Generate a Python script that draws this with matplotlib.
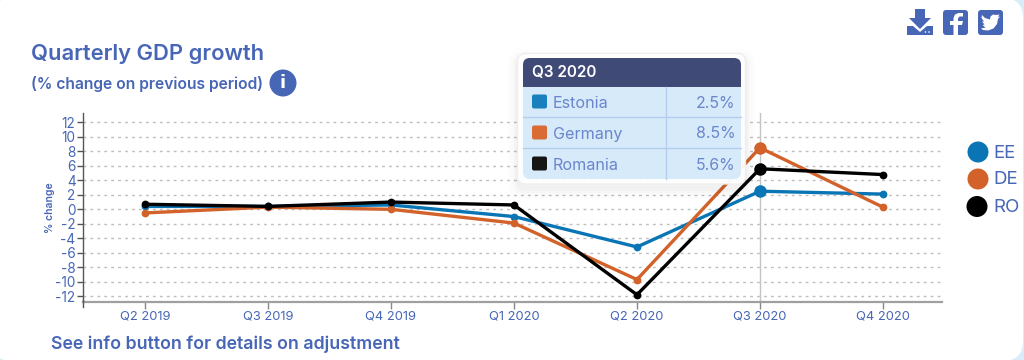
import matplotlib
matplotlib.use('Agg')
import matplotlib.pyplot as plt
from matplotlib.patches import Circle, FancyBboxPatch, Polygon, Rectangle
from matplotlib.lines import Line2D

plt.rcParams['font.family'] = ['Inter', 'DejaVu Sans']
plt.rcParams['axes.unicode_minus'] = False

quarters = ['Q2 2019', 'Q3 2019', 'Q4 2019', 'Q1 2020', 'Q2 2020', 'Q3 2020', 'Q4 2020']
estonia = [0.4, 0.4, 0.6, -1.0, -5.2, 2.5, 2.1]
germany = [-0.5, 0.3, 0.0, -1.9, -9.7, 8.5, 0.3]
romania = [0.7, 0.4, 1.0, 0.6, -11.8, 5.6, 4.8]
y_ticks = list(range(-12, 13, 2))

countries = ['Estonia', 'Germany', 'Romania']
codes = ['EE', 'DE', 'RO']
tooltip_title = 'Q3 2020'
tooltip_values = ['2.5%', '8.5%', '5.6%']
highlight = 5

BLUE = '#0a75b5'
ORANGE = '#d2622a'
BLACK = '#000000'
TEXT = '#4766b6'
colors = [BLUE, ORANGE, BLACK]

W, H = 1024, 360
fig = plt.figure(figsize=(W / 100, H / 100), dpi=100, facecolor='#d8ecf9')


def pixel_axes(zorder):
    a = fig.add_axes([0, 0, 1, 1], zorder=zorder)
    a.set_xlim(0, W)
    a.set_ylim(H, 0)
    a.axis('off')
    a.patch.set_alpha(0)
    return a


def rbox(a, x0, y0, x1, y1, r, **kw):
    p = FancyBboxPatch((x0 + r, y0 + r), x1 - x0 - 2 * r, y1 - y0 - 2 * r,
                       boxstyle='round,pad=%s,rounding_size=%s' % (r, r), **kw)
    a.add_patch(p)
    return p


# card behind the chart
back = pixel_axes(0)
rbox(back, -8, -2, 1023, 361, 20, fc='white', ec='none')

# chart, placed so that its box falls on the same pixels as the reference
left, right, top, bottom = 82.5, 942, 112.5, 302
ax = fig.add_axes([left / W, 1 - bottom / H, (right - left) / W, (bottom - top) / H], zorder=1)
ax.patch.set_alpha(0)
ax.set_xlim(-0.508, 6.48)
ax.set_ylim(-12.8, 13.37)

ax.set_yticks(y_ticks)
ax.set_xticks(range(len(quarters)))
ax.set_xticklabels(quarters)
ax.tick_params(axis='y', length=4, width=1, color='#555555', labelcolor=TEXT, labelsize=9.8, pad=1)
ax.tick_params(axis='x', length=5, width=1, color='#888888', labelcolor=TEXT, labelsize=9.3, pad=1)
ax.grid(axis='y', color='#bdbdbd', lw=1, ls=(0, (2, 3)))
ax.set_axisbelow(True)
for s in ['top', 'right']:
    ax.spines[s].set_visible(False)
ax.spines['left'].set_color('#555555')
ax.spines['left'].set_linewidth(1)
ax.spines['bottom'].set_color('#a0a0a0')
ax.spines['bottom'].set_linewidth(1.6)
ax.set_ylabel('% change', fontsize=7.5, fontweight='semibold', color=TEXT, labelpad=0)

ax.axvline(highlight, color='#c4c4c4', lw=1, zorder=1.5)

x = range(len(quarters))
for values, color in zip([estonia, germany, romania], colors):
    ax.plot(x, values, color=color, lw=2.4, marker='o', ms=5.6, mew=0, solid_joinstyle='round')
    ax.plot(highlight, values[highlight], color=color, marker='o', ms=9, mew=0)

# everything else sits on top, in pixels
top_ax = pixel_axes(2)
top_ax.add_line(Line2D([82.5, 82.5], [300, 307], color='#555555', lw=1))

top_ax.text(31, 54, 'Quarterly GDP growth', color=TEXT, fontsize=15.8, fontweight='semibold', va='center')
top_ax.text(31, 83.5, '(% change on previous period)', color=TEXT, fontsize=11.25, fontweight='semibold', va='center')
top_ax.text(51, 344, 'See info button for details on adjustment', color=TEXT, fontsize=12.75, fontweight='semibold', va='center')

top_ax.add_patch(Circle((283, 83), 13.5, fc=TEXT, ec='none'))
top_ax.text(283, 83.5, 'i', color='white', fontsize=13, fontweight='bold', ha='center', va='center',
            family='DejaVu Sans')

# download icon
top_ax.add_patch(Polygon([(915, 9), (925, 9), (925, 18), (931, 18), (920, 29), (909, 18), (915, 18)],
                         fc=TEXT, ec='none'))
top_ax.add_patch(Polygon([(907, 26), (913, 26), (920, 32), (927, 26), (933, 26), (933, 35), (907, 35)],
                         fc=TEXT, ec='none'))
top_ax.add_patch(Circle((925.5, 32), 0.8, fc='white', ec='none'))
top_ax.add_patch(Circle((929, 32), 0.8, fc='white', ec='none'))

# facebook icon
rbox(top_ax, 943, 10, 968, 35, 3, fc=TEXT, ec='none')
top_ax.add_patch(Polygon([(958, 35), (958, 25), (962, 25), (963, 21), (958, 21), (958, 18.5), (959.5, 16.5),
                          (963, 16.5), (963, 13), (958.5, 13), (955, 14.5), (953.5, 18), (953.5, 21),
                          (950, 21), (950, 25), (953.5, 25), (953.5, 35)], fc='white', ec='none'))

# twitter icon
rbox(top_ax, 978, 10, 1003, 35, 3, fc=TEXT, ec='none')
top_ax.add_patch(Polygon([(982, 15), (985, 18), (990, 19.5), (990.5, 16.5), (993, 14.5), (996, 15), (999.5, 14.5),
                          (998, 17), (1000, 16.5), (998, 19), (997, 24), (993.5, 28.5), (988, 30.5), (983, 30),
                          (981, 28.5), (985.5, 27.5), (982.5, 25), (984.5, 24.5), (982, 21.5), (984, 21.5),
                          (981.5, 18)], fc='white', ec='none'))

# legend
for code, color, cy, cx in zip(codes, colors, [152, 179, 206.5], [978, 978, 977]):
    top_ax.add_patch(Circle((cx, cy), 10.5, fc=color, ec='none'))
    top_ax.text(993, cy + 1, code, color=TEXT, fontsize=13.5, va='center')

# tooltip
for grow, alpha in [(10, 0.008), (7, 0.012), (4, 0.016), (2, 0.02)]:
    rbox(top_ax, 517.5 - grow, 53.5 - grow + 5, 745.5 + grow, 184 + grow + 5, 8 + grow, fc='black', ec='none', alpha=alpha)
rbox(top_ax, 517.5, 53.5, 745.5, 184, 8, fc='white', ec='#eeeeee', lw=1, alpha=0.95)
rbox(top_ax, 523, 58, 741, 179, 7, fc='#d6eaf9', ec='none')
rbox(top_ax, 523, 58, 741, 80, 7, fc='#3f4a77', ec='none')
top_ax.add_patch(Rectangle((523, 70), 218, 16.7, fc='#3f4a77', ec='none'))
top_ax.text(532, 73, tooltip_title, color='white', fontsize=11, fontweight='semibold', va='center')
for ly in [117, 148]:
    top_ax.add_line(Line2D([523, 741], [ly, ly], color='#b4cdec', lw=1))
top_ax.add_line(Line2D([665.7, 665.7], [86.7, 179], color='#b4cdec', lw=1))
for name, val, color, cy in zip(countries, tooltip_values, ['#1a80bd', '#d96c35', '#151515'], [102, 133, 164]):
    rbox(top_ax, 532, cy - 7.5, 547, cy + 6.5, 2, fc=color, ec='none')
    top_ax.text(552.5, cy + 1, name, color='#6a85cc', fontsize=11.6, va='center')
    top_ax.text(735.5, cy + 1, val, color='#6a85cc', fontsize=11.4, ha='right', va='center')

plt.savefig('out.png', dpi=100, facecolor=fig.get_facecolor())
